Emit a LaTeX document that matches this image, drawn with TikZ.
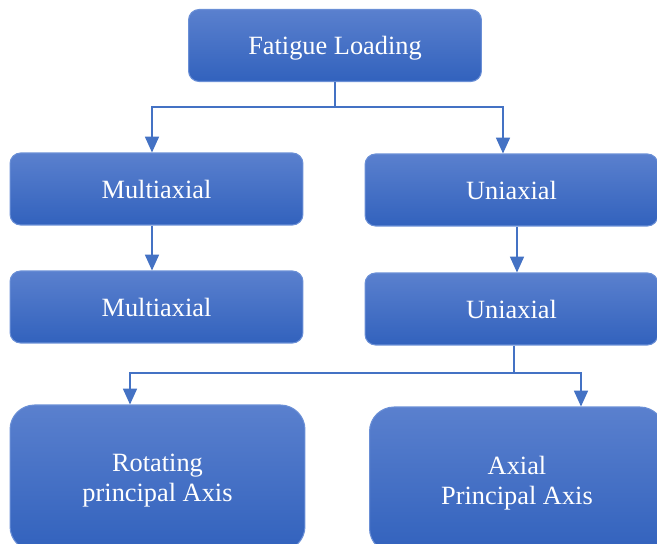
\documentclass[tikz,border=0pt]{standalone}
\usepackage{fontspec}
\setmainfont{Liberation Serif}
\usepackage{xcolor}
\usetikzlibrary{positioning,arrows.meta}

\definecolor{boxtop}{HTML}{5A80CE}
\definecolor{boxbot}{HTML}{3262BD}
\definecolor{boxline}{HTML}{6A8FD6}
\definecolor{linkblue}{HTML}{4472C4}

\tikzset{
  fbox/.style={draw=boxline, line width=0.6pt, top color=boxtop, bottom color=boxbot,
    rounded corners=6pt, minimum width=5.86cm, minimum height=1.44cm, inner sep=0pt,
    text=white, font=\fontsize{15}{17}\selectfont, align=center, text depth=0pt},
  tallbox/.style={fbox, rounded corners=14pt, minimum height=2.92cm, minimum width=5.9cm},
  link/.style={draw=linkblue, line width=0.75pt},
  linkarr/.style={link, -{Triangle[width=8pt,length=9pt]}}
}

\begin{document}
\begin{tikzpicture}[x=0.02cm, y=-0.02cm]
    \useasboundingbox (0,0) rectangle (657,544);
    % Le caselle
    \node[fbox] (fatigue) at (335,45.5) {Fatigue Loading};
    \node[fbox] (multi1) at (156.5,189) {Multiaxial};
    \node[fbox] (uni1) at (511.5,190) {Uniaxial};
    \node[fbox] (multi2) at (156.5,307) {Multiaxial};
    \node[fbox] (uni2) at (511.5,309) {Uniaxial};
    \node[tallbox] (rotating) at (157.5,478) {Rotating\\principal Axis};
    \node[tallbox] (axial) at (517,480) {Axial\\Principal Axis};
    % Punti di diramazione
    \coordinate (split1) at (335,107);
    \coordinate (split2) at (514,373);
    % Collegamenti dalla prima casella
    \draw[link] (fatigue.south -| split1) -- (split1);
    \draw[linkarr] (split1) -| (152,0 |- multi1.north);
    \draw[linkarr] (split1) -| (503,0 |- uni1.north);
    % Collegamenti verticali
    \draw[linkarr] (152,0 |- multi1.south) -- (152,0 |- multi2.north);
    \draw[linkarr] (517,0 |- uni1.south) -- (517,0 |- uni2.north);
    % Diramazione verso gli assi
    \draw[link] (split2 |- uni2.south) -- (split2);
    \draw[linkarr] (split2) -| (130,0 |- rotating.north);
    \draw[linkarr] (split2) -| (581,0 |- axial.north);
\end{tikzpicture}
\end{document}
